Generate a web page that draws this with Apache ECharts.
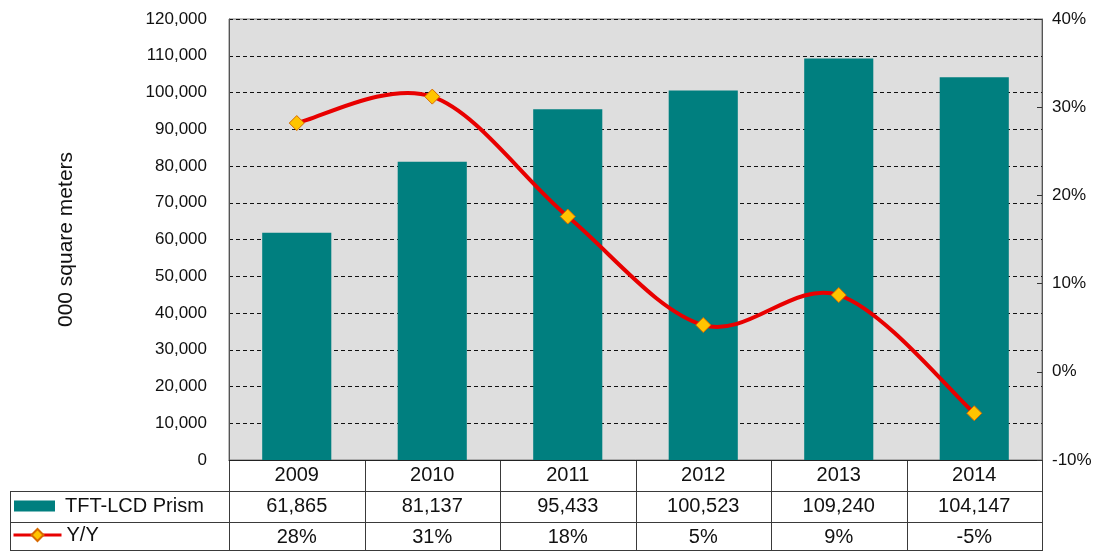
<!DOCTYPE html>
<html>
<head>
<meta charset="utf-8">
<script src="https://cdn.jsdelivr.net/npm/echarts@6/dist/echarts.min.js"></script>
<style>
html,body{margin:0;padding:0;background:#fff;}
#c{width:1106px;height:551px;}
</style>
</head>
<body>
<div id="c"></div>
<script>
const categories = ['2009', '2010', '2011', '2012', '2013', '2014'];
const prismValues = [61865, 81137, 95433, 100523, 109240, 104147];
const yoyValues = [28.2, 31.2, 17.6, 5.3, 8.7, -4.7];
const yoyLabels = ['28%', '31%', '18%', '5%', '9%', '-5%'];
const leftTicks = { min: 0, max: 120000, interval: 10000 };
const rightTicks = { min: -10, max: 40, interval: 10 };

const W = 1106, H = 551;
const G = { left: 229, right: 1042, top: 19, bottom: 460 };
const FONT = '"Liberation Sans", Arial, sans-serif';
const rowH = 31;
const tableLeft = 10;
const RED = '#E80000';

const chart = echarts.init(document.getElementById('c'), null, { renderer: 'canvas' });

function fmt(n) { return n.toLocaleString('en-US'); }

// table lines
const graphics = [];
const colW = (G.right - G.left) / categories.length;
const lineStyle = { stroke: '#3a3a3a', lineWidth: 1 };
for (let k = 0; k <= categories.length; k++) {
  const x = Math.round(G.left + k * colW) + 0.5;
  graphics.push({ type: 'line', shape: { x1: x, y1: G.bottom, x2: x, y2: H }, style: lineStyle, silent: true });
}
[G.bottom + rowH, G.bottom + 2 * rowH].forEach(y => {
  graphics.push({ type: 'line', shape: { x1: tableLeft, y1: y + 0.5, x2: G.right, y2: y + 0.5 }, style: lineStyle, silent: true });
});
graphics.push({ type: 'line', shape: { x1: tableLeft + 0.5, y1: G.bottom + rowH, x2: tableLeft + 0.5, y2: H }, style: lineStyle, silent: true });
graphics.push({ type: 'line', shape: { x1: tableLeft, y1: H - 0.5, x2: G.right, y2: H - 0.5 }, style: lineStyle, silent: true });

// Excel-like smooth curve (Catmull-Rom through data points, via the axis scales)
function renderSmooth(params, api) {
  if (params.dataIndex !== 0) return null;
  const pts = yoyValues.map((v, i) => api.coord([i, v]));
  const n = pts.length;
  let d = 'M' + pts[0][0] + ' ' + pts[0][1];
  for (let i = 0; i < n - 1; i++) {
    const p0 = pts[Math.max(i - 1, 0)], p1 = pts[i], p2 = pts[i + 1], p3 = pts[Math.min(i + 2, n - 1)];
    const c1 = [p1[0] + (p2[0] - p0[0]) / 6, p1[1] + (p2[1] - p0[1]) / 6];
    const c2 = [p2[0] - (p3[0] - p1[0]) / 6, p2[1] - (p3[1] - p1[1]) / 6];
    d += ' C' + c1[0] + ' ' + c1[1] + ' ' + c2[0] + ' ' + c2[1] + ' ' + p2[0] + ' ' + p2[1];
  }
  return {
    type: 'path',
    shape: { pathData: d },
    style: { fill: 'none', stroke: RED, lineWidth: 4, lineJoin: 'round', lineCap: 'round' },
    silent: true
  };
}

const option = {
  animation: false,
  backgroundColor: '#ffffff',
  textStyle: { fontFamily: FONT },
  grid: {
    left: G.left, right: W - G.right, top: G.top, bottom: H - G.bottom,
    show: true, backgroundColor: '#DEDEDE', borderColor: '#7a7a7a', borderWidth: 1
  },
  legend: [
    {
      left: 14, top: G.bottom + rowH + 5, padding: 0,
      itemWidth: 41, itemHeight: 11, itemGap: 0,
      icon: 'rect',
      textStyle: { fontFamily: FONT, fontSize: 20, color: '#111', padding: [0, 0, 0, 5] },
      data: ['TFT-LCD Prism']
    },
    {
      left: 12, top: G.bottom + 2 * rowH + 3, padding: 0,
      itemWidth: 48, itemHeight: 15, itemGap: 0,
      lineStyle: { color: RED, width: 3, opacity: 1 },
      textStyle: { fontFamily: FONT, fontSize: 20, color: '#111' },
      data: ['Y/Y']
    }
  ],
  xAxis: {
    type: 'category',
    data: categories,
    axisLine: { show: true, lineStyle: { color: '#222', width: 1 } },
    axisTick: { show: false },
    axisLabel: {
      margin: 0,
      interval: 0,
      formatter: function (v, i) {
        return '{a|' + v + '}\n{a|' + fmt(prismValues[i]) + '}\n{a|' + yoyLabels[i] + '}';
      },
      rich: { a: { fontFamily: FONT, fontSize: 20, color: '#111', lineHeight: rowH, align: 'center' } }
    }
  },
  yAxis: [
    {
      type: 'value',
      min: leftTicks.min, max: leftTicks.max, interval: leftTicks.interval,
      name: '000 square meters',
      nameLocation: 'middle', nameRotate: 90, nameGap: 152,
      nameTextStyle: { fontFamily: FONT, fontSize: 21, color: '#111' },
      axisLine: { show: true, lineStyle: { color: '#555' } },
      axisTick: { show: false },
      axisLabel: { margin: 22, fontSize: 17, color: '#111', fontFamily: FONT, formatter: v => fmt(v) },
      splitLine: { show: true, lineStyle: { color: '#111', type: [4, 3], width: 1 } }
    },
    {
      type: 'value',
      min: rightTicks.min, max: rightTicks.max, interval: rightTicks.interval,
      position: 'right',
      axisLine: { show: true, lineStyle: { color: '#555' } },
      axisTick: { show: true, inside: true, length: 5, lineStyle: { color: '#333' } },
      axisLabel: { margin: 10, fontSize: 17, color: '#111', fontFamily: FONT, formatter: '{value}%' },
      splitLine: { show: false }
    }
  ],
  series: [
    {
      name: 'TFT-LCD Prism',
      type: 'bar',
      data: prismValues,
      barWidth: '51%',
      itemStyle: { color: '#007F7F' },
      yAxisIndex: 0
    },
    {
      name: 'Y/Y curve',
      type: 'custom',
      yAxisIndex: 1,
      data: yoyValues.map((v, i) => [i, v]),
      renderItem: renderSmooth,
      z: 4
    },
    {
      name: 'Y/Y',
      type: 'line',
      data: yoyValues,
      yAxisIndex: 1,
      symbol: 'diamond',
      symbolSize: 15,
      lineStyle: { color: RED, width: 4, opacity: 0 },
      itemStyle: { color: '#FFC400', borderColor: '#D86A00', borderWidth: 1 },
      z: 5
    }
  ],
  graphic: graphics
};
chart.setOption(option);
</script>
</body>
</html>
